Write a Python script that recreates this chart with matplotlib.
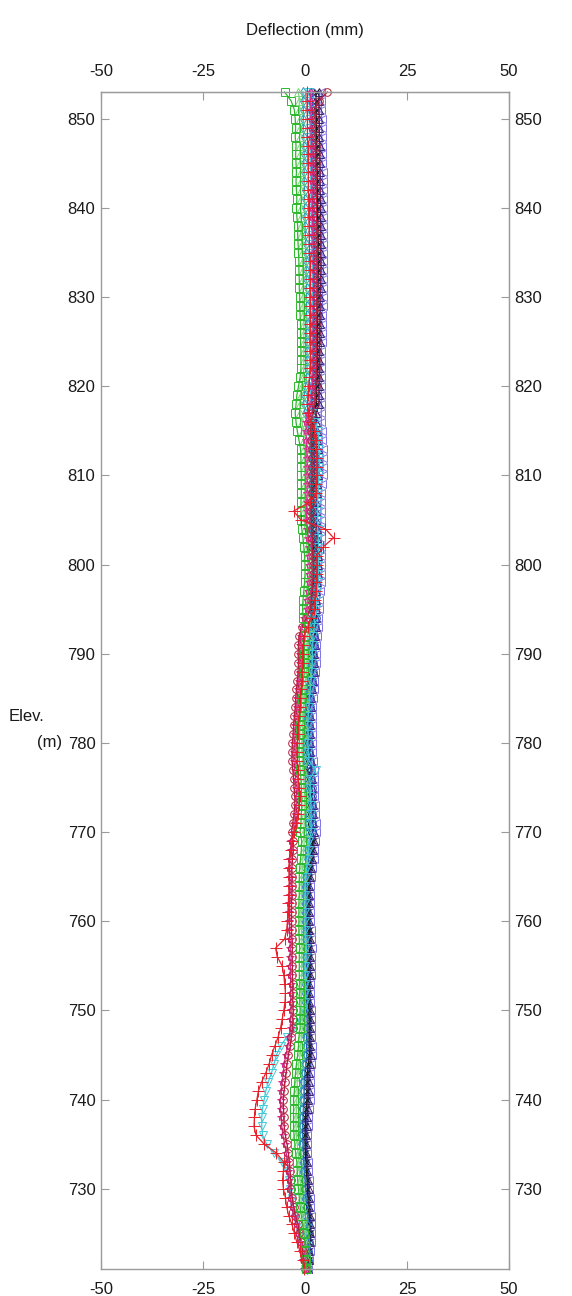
import matplotlib
matplotlib.use("Agg")
from matplotlib import pyplot as plt
from matplotlib import transforms

plt.rcParams['font.family'] = ['Liberation Sans', 'DejaVu Sans']

# inclinometer readings, 1 m steps from 853 m down to 721 m
elev = list(range(853, 720, -1))

# deflection (mm) per reading
green = [-5.0, -3.4, -2.6, -2.4, -2.3, -2.4, -2.2, -2.3, -2.2, -2.1, -2.2, -2.1, -2.0, -2.1, -2.0, -1.8, -1.8, -1.7,
         -1.6, -1.5, -1.5, -1.4, -1.4, -1.3, -1.3, -1.2, -1.1, -1.1, -1.1, -1.0, -1.0, -1.0, -1.2, -1.6, -2.0, -2.2,
         -2.4, -2.2, -1.9, -1.5, -1.1, -1.0, -1.0, -0.9, -0.9, -0.9, -1.0, -1.0, -1.0, -0.8, -0.5, -0.3, -0.1, 0.0,
         0.0, -0.1, -0.3, -0.5, -0.6,
         -0.4, -0.1, 0.0, -0.1, -0.2, -0.1, -0.2, -0.4, -0.6, -0.8, -0.9, -1.1, -1.3, -1.3, -1.4, -1.5, -1.4, -1.2,
         -1.0, -0.9, -0.8, -0.8, -0.9, -1.0, -1.2,
         -0.8, -0.9, -1.1, -1.3, -1.4, -1.4, -1.4, -1.5, -1.5, -1.5, -1.5, -1.4, -1.3, -1.4, -1.4, -1.4, -1.3, -1.3,
         -1.3, -1.2, -1.2, -1.2, -1.5, -1.6, -1.8, -2.1, -2.3, -2.5, -2.6, -2.8, -2.8, -2.8, -2.8, -2.7, -2.5, -2.3,
         -2.0, -1.9, -1.8, -1.6, -1.4, -1.2, -0.9, -0.5, -0.3, 0.0, 0.1, 0.2, 0.3]
lime = [-1.6, -1.4, -1.4, -1.3, -1.3, -1.3, -1.2, -1.2, -1.2, -1.1, -1.1, -1.1, -1.0, -1.0, -1.0, -0.9, -0.9, -0.8,
        -0.7, -0.6, -0.6, -0.5, -0.5, -0.5, -0.5, -0.4, -0.3, -0.3, -0.3, -0.3, -0.3, -0.3, -0.4, -0.8, -1.1, -1.3,
        -1.2, -0.7, -0.4, -0.3, -0.2, -0.1, -0.1, -0.1, -0.1, -0.1, -0.2, -0.2, -0.2, 0.0, 0.3, 0.4, 0.6, 0.7,
        0.7, 0.6, 0.4, 0.2, 0.1,
        0.5, 0.8, 0.7, 0.6, 0.5, 0.5, 0.4, 0.2, 0.0, -0.2, -0.3, -0.5, -0.6, -0.6, -0.7, -0.7, -0.6, -0.4,
        -0.3, -0.2, -0.1, 0.0, -0.1, -0.2, -0.3,
        -0.2, -0.3, -0.5, -0.7, -0.8, -0.9, -0.9, -1.0, -1.0, -1.0, -0.9, -0.8, -0.7, -0.8, -0.8, -0.8, -0.9, -0.9,
        -0.9, -0.8, -0.7, -0.7, -0.9, -1.0, -1.2, -1.5, -1.7, -1.9, -1.9, -2.0, -2.1, -2.2, -2.2, -2.1, -1.9, -1.7,
        -1.5, -1.4, -1.2, -1.1, -1.0, -0.8, -0.5, -0.1, 0.1, 0.2, 0.3, 0.4, 0.4]
teal = [-0.5, -0.5, -0.4, -0.4, -0.4, -0.3, -0.3, -0.2, -0.3, -0.2, -0.2, -0.1, -0.1, -0.1, 0.0, 0.0, 0.1, 0.2,
        0.2, 0.3, 0.3, 0.3, 0.4, 0.4, 0.4, 0.4, 0.5, 0.4, 0.5, 0.5, 0.5, 0.5, 0.4, 0.1, -0.2, -0.3,
        0.0, 0.5, 1.0, 1.2, 1.3, 1.4, 1.4, 1.4, 1.3, 1.3, 1.2, 1.2, 1.2, 1.3, 1.5, 1.6, 1.7, 1.8,
        1.8, 1.7, 1.5, 1.3, 1.2,
        1.5, 1.4, 1.1, 1.0, 0.9, 0.9, 0.8, 0.6, 0.4, 0.2, 0.1, -0.1, -0.2, -0.1, -0.2, -0.2, -0.1, 0.1,
        0.2, 0.3, 0.4, 0.5, 0.4, 0.4, 0.3,
        0.7, 0.6, 0.4, 0.1, -0.1, -0.2, -0.2, -0.3, -0.3, -0.3, -0.2, -0.1, 0.0, -0.1, -0.1, -0.1, -0.1, -0.1,
        -0.1, 0.0, 0.0, 0.0, -0.1, -0.1, -0.2, -0.5, -0.7, -0.8, -0.9, -1.0, -1.1, -1.2, -1.2, -1.2, -1.1, -1.0,
        -0.8, -0.7, -0.5, -0.4, -0.2, -0.1, 0.1, 0.4, 0.5, 0.6, 0.6, 0.6, 0.5]
red = [0.5, 0.5, 0.5, 0.6, 0.6, 0.6, 0.7, 0.7, 0.7, 0.8, 0.8, 0.8, 0.9, 0.9, 0.9, 1.0, 1.0, 1.1,
       1.1, 1.2, 1.2, 1.2, 1.2, 1.2, 1.2, 1.2, 1.2, 1.2, 1.2, 1.3, 1.3, 1.3, 1.1, 0.9, 0.7, 0.6,
       0.8, 1.5, 2.3, 2.7, 2.8, 2.9, 2.9, 2.9, 2.7, 2.7, 1.2, -2.8, -1.0, 5.0, 7.0, 4.5, 2.9, 2.9,
       2.9, 2.8, 2.6, 2.4, 2.3,
       1.5, 0.7, -0.2, -0.5, -0.6, -0.6, -0.7, -0.8, -1.0, -1.2, -1.3, -1.5, -1.7, -1.8, -1.9, -2.0, -1.9, -1.7,
       -1.6, -1.5, -1.3, -1.4, -1.7, -2.1, -2.6,
       -3.2, -3.4, -3.8, -4.0, -3.9, -3.9, -4.0, -4.1, -4.2, -4.3, -4.5, -5.0, -7.2, -6.8, -5.6, -5.2, -5.0, -4.8,
       -4.9, -5.2, -5.6, -6.0, -6.6, -7.4, -8.2, -8.8, -9.6, -10.6, -11.4, -11.8, -12.2, -12.4, -12.5, -12.0, -10.0,
       -7.0, -5.2, -5.3, -5.5, -5.3, -4.8, -4.5, -4.0, -3.2, -2.6, -2.0, -1.2, -0.6, -0.2]
cyan = [1.1, 1.1, 1.1, 1.2, 1.2, 1.2, 1.3, 1.3, 1.3, 1.4, 1.4, 1.4, 1.5, 1.5, 1.5, 1.6, 1.6, 1.7,
        1.7, 1.8, 1.8, 1.8, 1.8, 1.8, 1.8, 1.8, 1.8, 1.8, 1.8, 1.8, 1.8, 1.8, 1.7, 1.5, 1.3, 1.2,
        1.8, 2.5, 3.2, 3.3, 3.4, 3.5, 3.5, 3.4, 3.3, 3.2, 3.1, 3.1, 3.1, 3.1, 3.3, 3.3, 3.3, 3.3,
        3.3, 3.2, 3.0, 2.8, 2.8,
        2.4, 2.3, 2.0, 1.9, 1.8, 1.8, 1.7, 1.5, 1.3, 1.1, 1.0, 0.8, 0.7, 0.8, 0.7, 0.8, 1.0, 2.6,
        1.2, 1.3, 1.3, 1.5, 1.5, 1.5, 1.5,
        1.0, 0.9, 0.7, 0.4, 0.2, 0.1, 0.1, 0.0, 0.0, 0.0, 0.1, 0.2, 0.3, 0.2, 0.1, 0.1, 0.1, 0.1,
        0.0, -0.5, -1.5, -3.0, -4.5, -6.0, -7.0, -7.6, -8.2, -9.0, -9.6, -10.0, -10.4, -10.6, -10.6, -10.4, -9.4,
        -7.6, -5.6, -4.4, -4.0, -3.6, -3.2, -2.8, -2.2, -1.6, -1.2, -0.8, -0.5, -0.2, 0.0]
blue = [1.8, 1.8, 1.8, 1.9, 1.9, 1.9, 2.0, 2.0, 2.0, 2.1, 2.1, 2.1, 2.2, 2.2, 2.2, 2.2, 2.2, 2.3,
        2.3, 2.4, 2.4, 2.4, 2.4, 2.3, 2.3, 2.3, 2.3, 2.3, 2.3, 2.3, 2.3, 2.3, 2.2, 2.0, 1.9, 1.8,
        1.8, 1.8, 2.0, 2.1, 2.2, 2.3, 2.3, 2.3, 2.1, 2.1, 2.0, 2.0, 2.0, 2.1, 2.3, 2.3, 2.4, 2.5,
        2.5, 2.4, 2.2, 2.0, 1.9,
        2.6, 2.5, 2.2, 2.1, 2.0, 2.0, 1.9, 1.7, 1.5, 1.3, 1.2, 1.0, 0.9, 1.0, 1.0, 1.1, 1.2, 1.4,
        1.5, 1.6, 1.6, 1.8, 1.7, 1.8, 1.8,
        1.3, 1.1, 0.9, 0.7, 0.5, 0.3, 0.3, 0.2, 0.2, 0.2, 0.4, 0.5, 0.6, 0.5, 0.4, 0.4, 0.3, 0.3,
        0.3, 0.4, 0.5, 0.5, 0.4, 0.4, 0.4, 0.2, 0.0, -0.2, -0.2, -0.2, -0.4, -0.5, -0.6, -0.6, -0.5,
        -0.4, -0.3, -0.2, 0.0, 0.1, 0.2, 0.4, 0.6, 0.8, 0.9, 0.9, 0.8, 0.8, 0.6]
magenta = [1.4, 1.4, 1.4, 1.5, 1.5, 1.5, 1.6, 1.6, 1.6, 1.7, 1.7, 1.7, 1.8, 1.8, 1.8, 1.9, 1.9, 2.0,
           2.0, 2.1, 2.1, 2.1, 2.1, 2.1, 2.1, 2.0, 2.0, 2.0, 2.0, 2.0, 2.0, 2.0, 1.9, 1.8, 1.6, 1.5,
           0.8, 0.3, 0.2, 0.3, 0.4, 0.5, 0.5, 0.5, 0.5, 0.5, 0.4, 0.4, 0.4, 0.5, 0.8, 0.9, 1.0, 1.1,
           1.1, 1.0, 0.8, 0.6, 0.5,
           -0.2, -0.7, -1.1, -1.2, -1.3, -1.2, -1.3, -1.5, -1.7, -1.9, -2.0, -2.2, -2.4, -2.4, -2.6, -2.7, -2.7, -2.5,
           -2.3, -2.2, -2.0, -2.0, -2.2, -2.4, -2.7,
           -3.5, -3.5, -3.7, -3.8, -3.7, -3.7, -3.7, -3.8, -3.8, -3.8, -3.8, -3.7, -3.6, -3.7, -3.6, -3.6, -3.5, -3.5,
           -3.5, -3.4, -3.5, -3.5, -3.9, -4.2, -4.7, -5.1, -5.3, -5.6, -5.8, -6.0, -6.0, -5.8, -5.7, -5.4, -5.0,
           -4.6, -4.3, -4.2, -4.0, -3.9, -3.6, -3.3, -2.8, -2.1, -1.7, -1.2, -0.8, -0.5, -0.2]
maroon = [5.5, 3.4, 2.4, 2.5, 2.5, 2.5, 2.6, 2.6, 2.6, 2.7, 2.7, 2.7, 2.8, 2.8, 2.8, 2.9, 2.9, 3.0,
          2.9, 3.0, 3.0, 3.0, 3.0, 2.9, 2.9, 2.9, 2.8, 2.8, 2.8, 2.8, 2.8, 2.8, 2.7, 2.6, 2.5, 2.4,
          1.8, 1.5, 1.4, 1.5, 1.6, 1.7, 1.7, 1.7, 1.6, 1.6, 1.5, 1.5, 1.5, 1.6, 1.8, 1.8, 1.9, 2.0,
          2.0, 1.9, 1.7, 1.5, 1.4,
          0.3, -0.7, -1.5, -1.6, -1.7, -1.6, -1.7, -1.9, -2.1, -2.3, -2.4, -2.6, -2.8, -2.9, -3.1, -3.2, -3.2, -3.0,
          -2.8, -2.7, -2.5, -2.5, -2.7, -3.0, -3.3,
          -2.9, -2.9, -3.1, -3.2, -3.2, -3.2, -3.2, -3.3, -3.3, -3.3, -3.3, -3.2, -3.1, -3.2, -3.1, -3.1, -3.0, -3.0,
          -3.0, -2.9, -3.0, -3.0, -3.4, -3.6, -4.1, -4.4, -4.6, -4.9, -5.1, -5.3, -5.3, -5.1, -5.1, -4.8, -4.4,
          -4.1, -3.8, -3.7, -3.5, -3.4, -3.1, -2.8, -2.4, -1.7, -1.4, -0.9, -0.6, -0.3, -0.1]
black = [2.7, 2.7, 2.7, 2.8, 2.8, 2.8, 2.9, 2.9, 2.9, 3.0, 3.0, 3.0, 3.1, 3.1, 3.1, 3.2, 3.2, 3.3,
         3.2, 3.3, 3.3, 3.2, 3.2, 3.2, 3.2, 3.1, 3.1, 3.1, 3.1, 3.0, 3.0, 3.0, 3.0, 2.9, 2.8, 2.8,
         2.1, 1.8, 1.7, 1.8, 1.9, 2.0, 2.0, 2.0, 1.9, 1.8, 1.7, 1.7, 1.7, 1.8, 2.0, 2.1, 2.2, 2.2,
         2.2, 2.1, 1.9, 1.7, 1.7,
         1.9, 1.8, 1.6, 1.5, 1.4, 1.3, 1.2, 1.0, 0.8, 0.6, 0.5, 0.3, 0.3, 0.3, 0.3, 0.3, 0.4, 0.6,
         0.7, 0.8, 0.9, 1.0, 0.9, 0.9, 0.9,
         1.9, 1.7, 1.5, 1.2, 1.0, 0.8, 0.8, 0.7, 0.7, 0.7, 0.9, 1.0, 1.1, 1.0, 0.9, 0.9, 0.8, 0.8,
         0.8, 0.9, 1.0, 1.0, 1.0, 1.0, 1.1, 0.8, 0.6, 0.5, 0.5, 0.5, 0.3, 0.1, 0.1, 0.0, 0.0,
         0.1, 0.2, 0.3, 0.5, 0.6, 0.7, 0.8, 1.0, 1.1, 1.2, 1.1, 1.0, 0.9, 0.7]
purple = [3.4, 3.4, 3.4, 3.5, 3.5, 3.5, 3.6, 3.6, 3.6, 3.7, 3.7, 3.7, 3.8, 3.8, 3.8, 3.8, 3.8, 3.9,
          3.8, 3.9, 3.9, 3.8, 3.8, 3.7, 3.7, 3.7, 3.6, 3.6, 3.6, 3.5, 3.5, 3.5, 3.5, 3.4, 3.4, 3.4,
          2.7, 2.8, 2.9, 3.0, 3.1, 3.2, 3.2, 3.1, 3.0, 2.9, 2.8, 2.8, 2.8, 2.9, 3.0, 3.0, 3.1, 3.1,
          3.1, 3.0, 2.8, 2.6, 2.6,
          2.8, 2.7, 2.5, 2.4, 2.3, 2.2, 2.1, 1.9, 1.7, 1.5, 1.4, 1.2, 1.2, 1.2, 1.2, 1.3, 1.5, 1.7,
          1.7, 1.8, 1.8, 2.0, 2.0, 2.0, 2.1,
          2.2, 2.0, 1.8, 1.5, 1.2, 1.1, 1.1, 1.0, 1.0, 1.0, 1.1, 1.2, 1.3, 1.2, 1.2, 1.2, 1.1, 1.1,
          1.1, 1.2, 1.3, 1.3, 1.2, 1.3, 1.4, 1.2, 1.0, 0.9, 0.9, 0.8, 0.7, 0.5, 0.4, 0.3, 0.3,
          0.3, 0.5, 0.6, 0.8, 0.9, 1.0, 1.1, 1.2, 1.3, 1.3, 1.3, 1.1, 1.0, 0.8]
violet = [4.0, 4.0, 4.0, 4.1, 4.1, 4.1, 4.2, 4.2, 4.2, 4.3, 4.3, 4.3, 4.4, 4.4, 4.4, 4.4, 4.4, 4.5,
          4.4, 4.5, 4.5, 4.4, 4.4, 4.3, 4.3, 4.2, 4.1, 4.1, 4.1, 4.0, 4.0, 4.0, 4.0, 4.0, 4.0, 4.0,
          4.0, 4.0, 4.1, 4.2, 4.3, 4.4, 4.4, 4.3, 4.1, 4.0, 3.9, 3.9, 3.9, 3.9, 4.0, 4.0, 4.0, 4.0,
          4.0, 3.9, 3.7, 3.5, 3.5,
          3.3, 3.2, 2.9, 2.8, 2.7, 2.6, 2.5, 2.3, 2.1, 1.9, 1.8, 1.6, 1.6, 1.7, 1.7, 1.8, 2.0, 2.2,
          2.2, 2.3, 2.3, 2.5, 2.5, 2.6, 2.7,
          2.5, 2.3, 2.1, 1.8, 1.5, 1.3, 1.3, 1.2, 1.2, 1.2, 1.4, 1.5, 1.6, 1.5, 1.4, 1.4, 1.3, 1.3,
          1.3, 1.4, 1.5, 1.5, 1.5, 1.6, 1.7, 1.5, 1.3, 1.2, 1.2, 1.2, 1.0, 0.8, 0.7, 0.6, 0.6,
          0.6, 0.7, 0.8, 1.0, 1.1, 1.2, 1.3, 1.4, 1.5, 1.5, 1.4, 1.2, 1.1, 0.8]

xTicks = [-50, -25, 0, 25, 50]
yTicks = [730, 740, 750, 760, 770, 780, 790, 800, 810, 820, 830, 840, 850]

# drawing order, bottom first: (values, colour, marker, size)
series = [
    (violet, '#7f73e6', '<', 6),
    (purple, '#3c1f70', '^', 6),
    (blue, '#2b4cc0', 'o', 5.5),
    (black, '#1a1a1a', 'x', 5),
    (teal, '#2a9db5', 'd', 5.5),
    (cyan, '#40c8d8', 'v', 6),
    (lime, '#7ad67a', '^', 6),
    (magenta, '#d42a8c', '*', 6),
    (maroon, '#b0203c', 'o', 5.5),
    (green, '#2db82d', 's', 5.5),
    (red, '#e8202a', '+', 8),
]

W, H = 572, 1296
fig = plt.figure(figsize=(W / 100, H / 100), dpi=100)
left, right, top, bottom = 101, 509, 92, 1269
ax = fig.add_axes([left / W, 1 - bottom / H, (right - left) / W, (bottom - top) / H])

for vals, col, mk, ms in series:
    ax.plot(vals, elev, color=col, lw=0.9, marker=mk, ms=ms, mfc='none', mec=col, mew=0.7, clip_on=False)

ax.set_xlim(-50, 50)
ax.set_ylim(721, 853)
ax.set_xticks(xTicks)
ax.set_yticks(yTicks)
ax.set_xticklabels([str(v) for v in xTicks])
ax.tick_params(direction='in', length=6, width=0.8, color='#9a9a9a', labelsize=12, labelcolor='#1a1a1a')
ax.tick_params(axis='x', pad=9)
ax.tick_params(axis='y', pad=4)
for sp in ax.spines.values():
    sp.set_color('#9a9a9a')
    sp.set_linewidth(1.0)

axTop = ax.secondary_xaxis('top')
axTop.set_xticks(xTicks)
axTop.set_xticklabels([str(v) for v in xTicks])
axTop.tick_params(direction='in', length=6, width=0.8, color='#9a9a9a', labelsize=12, labelcolor='#1a1a1a', pad=9)
axTop.spines['top'].set_color('#9a9a9a')

axRight = ax.secondary_yaxis('right')
axRight.set_yticks(yTicks)
axRight.tick_params(direction='in', length=6, width=0.8, color='#9a9a9a', labelsize=12, labelcolor='#1a1a1a', pad=4)
axRight.spines['right'].set_color('#9a9a9a')

fig.text(305 / W, 1 - 31 / H, 'Deflection (mm)', ha='center', va='center', fontsize=12, color='#1a1a1a')

trans = transforms.blended_transform_factory(ax.transAxes, ax.transData)
ax.text((9 - left) / (right - left), 783.0, 'Elev.', transform=trans, ha='left', va='center', fontsize=12, color='#1a1a1a')
ax.text((62 - left) / (right - left), 780.0, '(m)', transform=trans, ha='right', va='center', fontsize=12, color='#1a1a1a')

fig.savefig('out.png', dpi=100)
